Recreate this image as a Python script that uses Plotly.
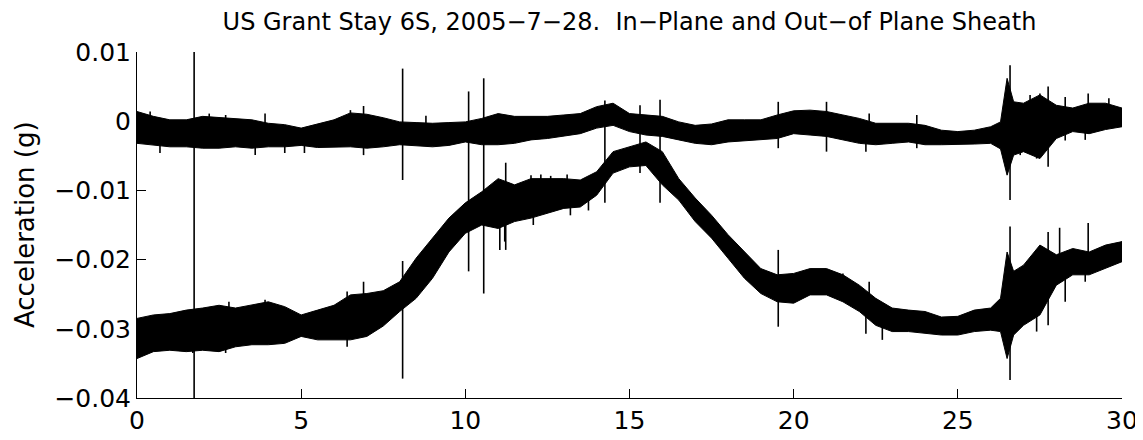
import plotly.graph_objects as go

time_s = [0, 0.5, 1, 1.5, 2, 2.5, 3, 3.5, 4, 4.5, 5, 5.5, 6, 6.5, 7, 7.5,
          8, 8.5, 9, 9.5, 10, 10.5, 11, 11.5, 12, 12.5, 13, 13.5, 14, 14.5,
          15, 15.5, 16, 16.5, 17, 17.5, 18, 18.5, 19, 19.5, 20, 20.5, 21,
          21.5, 22, 22.5, 23, 23.5, 24, 24.5, 25, 25.5, 26, 26.3, 26.5,
          26.7, 27, 27.5, 28, 28.5, 29, 29.5, 30]

# out-of-plane sheath (trace near 0 g): upper / lower envelope
out_plane_hi = [0.0014, 0.0007, 0.0002, 0.0002, 0.0007, 0.0005, 0.0003, 0.0002,
                -0.0003, -0.0005, -0.0010, -0.0004, 0.0002, 0.0012, 0.0010, 0.0005,
                -0.0001, -0.0002, -0.0003, -0.0002, -0.0001, 0.0004, 0.0011, 0.0007,
                0.0007, 0.0007, 0.0009, 0.0011, 0.0021, 0.0026, 0.0011, 0.0009,
                0.0007, -0.0001, -0.0006, -0.0004, 0.0002, 0.0002, 0.0002, 0.0009,
                0.0015, 0.0016, 0.0014, 0.0009, 0.0004, -0.0003, -0.0003, -0.0003,
                -0.0006, -0.0013, -0.0015, -0.0013, -0.0008, -0.0001, 0.0062,
                0.0028, 0.0026, 0.0038, 0.0023, 0.0019, 0.0026, 0.0026, 0.0019]
out_plane_lo = [-0.0032, -0.0034, -0.0037, -0.0037, -0.0039, -0.0039, -0.0037, -0.0039,
                -0.0037, -0.0037, -0.0035, -0.0038, -0.0037, -0.0037, -0.0039, -0.0037,
                -0.0034, -0.0036, -0.0037, -0.0035, -0.0030, -0.0034, -0.0034, -0.0032,
                -0.0027, -0.0025, -0.0022, -0.0018, -0.0010, -0.0006, -0.0015, -0.0020,
                -0.0022, -0.0027, -0.0032, -0.0034, -0.0030, -0.0028, -0.0027, -0.0025,
                -0.0018, -0.0020, -0.0022, -0.0027, -0.0032, -0.0034, -0.0032, -0.0030,
                -0.0034, -0.0034, -0.0034, -0.0033, -0.0032, -0.0040, -0.0078,
                -0.0049, -0.0044, -0.0054, -0.0025, -0.0015, -0.0018, -0.0012, -0.0008]

# in-plane sheath (lower trace): upper / lower envelope
in_plane_hi = [-0.0285, -0.0280, -0.0278, -0.0273, -0.0270, -0.0266, -0.0270, -0.0266,
               -0.0261, -0.0268, -0.0280, -0.0273, -0.0266, -0.0251, -0.0249, -0.0245,
               -0.0232, -0.0198, -0.0169, -0.0140, -0.0118, -0.0102, -0.0083, -0.0092,
               -0.0083, -0.0083, -0.0083, -0.0085, -0.0073, -0.0044, -0.0037, -0.0030,
               -0.0044, -0.0083, -0.0111, -0.0136, -0.0164, -0.0189, -0.0213, -0.0222,
               -0.0220, -0.0213, -0.0213, -0.0222, -0.0237, -0.0256, -0.0270, -0.0273,
               -0.0275, -0.0283, -0.0282, -0.0273, -0.0270, -0.0256, -0.0189,
               -0.0217, -0.0208, -0.0179, -0.0193, -0.0184, -0.0189, -0.0179, -0.0174]
in_plane_lo = [-0.0343, -0.0333, -0.0331, -0.0333, -0.0331, -0.0333, -0.0326, -0.0323,
               -0.0323, -0.0321, -0.0311, -0.0316, -0.0316, -0.0316, -0.0311, -0.0296,
               -0.0275, -0.0256, -0.0227, -0.0189, -0.0162, -0.0150, -0.0155, -0.0145,
               -0.0140, -0.0133, -0.0126, -0.0124, -0.0107, -0.0075, -0.0066, -0.0064,
               -0.0092, -0.0114, -0.0145, -0.0169, -0.0198, -0.0227, -0.0249, -0.0261,
               -0.0263, -0.0251, -0.0251, -0.0261, -0.0275, -0.0295, -0.0304, -0.0304,
               -0.0307, -0.0309, -0.0309, -0.0304, -0.0302, -0.0304, -0.0343,
               -0.0309, -0.0295, -0.0280, -0.0237, -0.0222, -0.0222, -0.0213, -0.0203]

# transients and spiky bursts: time, top, bottom
spike_t = [1.74, 8.09, 8.09, 10.1, 10.56, 11.23, 14.25, 15.32, 15.93, 19.53, 19.53,
           21.0, 26.59, 26.59, 27.75, 27.75, 28.1, 28.97, 28.97,
           6.9, 6.9, 0.4, 2.2, 2.7, 3.9, 6.5, 8.8,
           0.7, 3.6, 4.5, 5.1, 6.9,
           0.1, 1.7, 2.7, 6.4, 2.8, 3.9, 6.4,
           12.0, 12.3, 12.6, 13.1, 11.05, 11.2, 12.07, 13.2, 13.75,
           22.3, 23.75, 27.2, 27.5, 28.27, 29.6,
           22.2, 23.75, 26.9, 27.4, 28.27, 28.88,
           22.2, 22.7, 27.4, 28.27, 28.88, 21.5, 22.3]
spike_top = [0.0100, 0.0076, -0.0202, 0.0043, 0.0062, -0.0060, 0.0030, 0.0023, 0.0031,
             0.0028, -0.0186, 0.0028, 0.0081, -0.0152, 0.0050, -0.0160, -0.0154, 0.0040,
             -0.0147,
             0.0022, -0.0232, 0.0014, 0.0011, 0.0009, 0.0011, 0.0016, 0.0008,
             -0.0020, -0.0020, -0.0020, -0.0020, -0.0020,
             -0.0310, -0.0305, -0.0305, -0.0300, -0.0261, -0.0258, -0.0246,
             -0.0078, -0.0077, -0.0079, -0.0077, -0.0120, -0.0120, -0.0110, -0.0105, -0.0100,
             0.0011, 0.0009, 0.0038, 0.0040, 0.0035, 0.0033,
             -0.0020, -0.0020, -0.0020, -0.0020, -0.0005, -0.0005,
             -0.0280, -0.0290, -0.0280, -0.0220, -0.0200, -0.0220, -0.0232]
spike_bot = [-0.0400, -0.0085, -0.0372, -0.0217, -0.0249, -0.0186, -0.0118, -0.0075,
             -0.0118, -0.0039, -0.0297, -0.0044, -0.0114, -0.0374, -0.0066, -0.0295,
             -0.0230, -0.0010, -0.0200,
             -0.0005, -0.0260, -0.0005, -0.0005, -0.0005, -0.0005, -0.0005, -0.0005,
             -0.0046, -0.0049, -0.0046, -0.0046, -0.0049,
             -0.0340, -0.0335, -0.0335, -0.0326, -0.0290, -0.0290, -0.0280,
             -0.0100, -0.0100, -0.0100, -0.0100, -0.0186, -0.0174, -0.0150, -0.0136, -0.0129,
             -0.0010, -0.0010, 0.0000, 0.0000, 0.0000, 0.0000,
             -0.0044, -0.0039, -0.0049, -0.0054, -0.0028, -0.0027,
             -0.0307, -0.0316, -0.0304, -0.0261, -0.0232, -0.0245, -0.0250]

x_ticks = [0, 5, 10, 15, 20, 25, 30]
y_ticks = [0.01, 0, -0.01, -0.02, -0.03, -0.04]

FONT = "DejaVu Sans, Liberation Sans, Arial, sans-serif"

fig = go.Figure()

for hi, lo in [(out_plane_hi, out_plane_lo), (in_plane_hi, in_plane_lo)]:
    fig.add_trace(
        go.Scatter(
            x=time_s + time_s[::-1],
            y=hi + lo[::-1],
            mode="lines",
            fill="toself",
            fillcolor="black",
            line=dict(color="black", width=1),
            hoverinfo="skip",
            showlegend=False,
        )
    )

# vertical transients as one broken line
sx, sy = [], []
for t, top, bot in zip(spike_t, spike_top, spike_bot):
    sx += [t, t, None]
    sy += [top, bot, None]
fig.add_trace(
    go.Scatter(x=sx, y=sy, mode="lines", line=dict(color="black", width=1.6),
               hoverinfo="skip", showlegend=False)
)

axis_style = dict(
    ticks="inside",
    ticklen=9,
    tickwidth=1,
    tickcolor="black",
    showline=True,
    linecolor="black",
    linewidth=1,
    showgrid=False,
    zeroline=False,
    mirror=False,
    automargin=False,
    tickfont=dict(family=FONT, size=25, color="black"),
)

# page body adds an 8px offset, so the figure is a bit smaller than the window
W, H = 1135, 432

fig.update_layout(
    width=W,
    height=H,
    margin=dict(l=129, r=21, t=44, b=42),
    paper_bgcolor="white",
    plot_bgcolor="white",
    font=dict(family=FONT, size=25, color="black"),
    title=dict(
        text="US Grant Stay 6S, 2005\u22127\u221228.\u00a0 In\u2212Plane and Out\u2212of Plane Sheath",
        x=0.5,
        xref="paper",
        xanchor="center",
        y=1 - 14 / H,
        yref="container",
        yanchor="middle",
        font=dict(family=FONT, size=24, color="black"),
    ),
    xaxis=dict(range=[0, 30], tickvals=x_ticks, **axis_style),
    yaxis=dict(range=[-0.04, 0.01], tickvals=y_ticks, **axis_style),
    annotations=[
        dict(
            text="Acceleration (g)",
            textangle=-90,
            xref="paper",
            yref="paper",
            x=-112 / 985,
            y=0.5,
            xanchor="center",
            yanchor="middle",
            showarrow=False,
            font=dict(family=FONT, size=26, color="black"),
        )
    ],
)

fig.write_html("out.html")
